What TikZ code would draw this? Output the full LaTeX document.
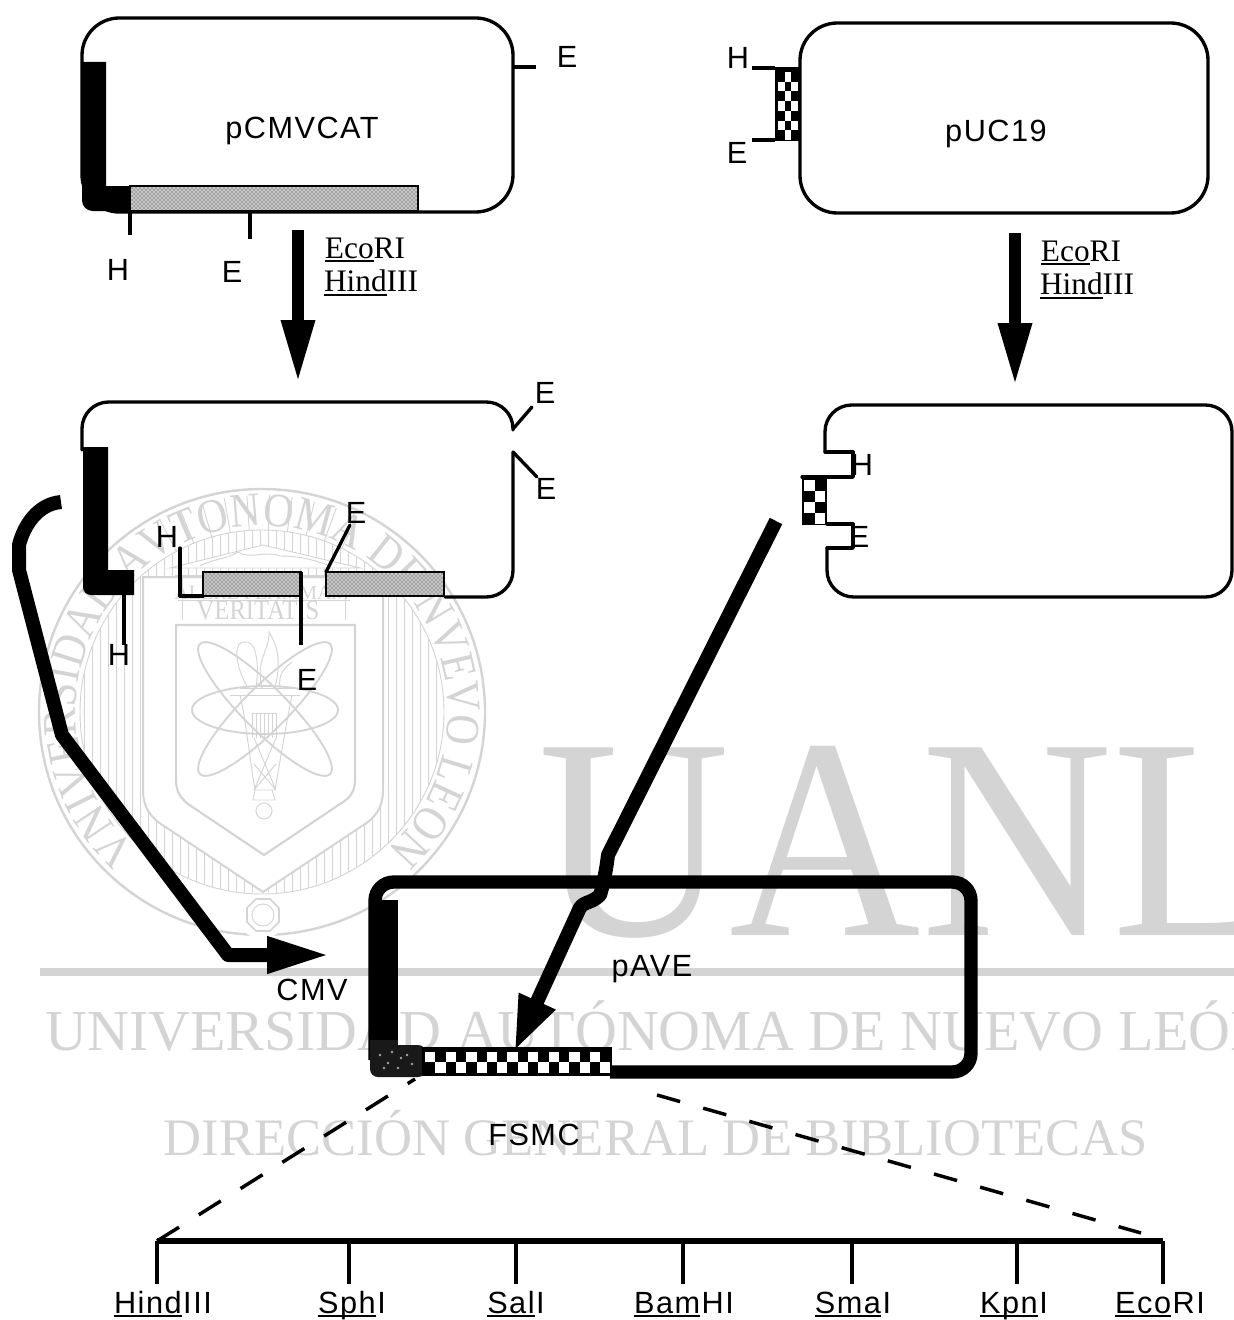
\documentclass[tikz,border=0pt]{standalone}
\usepackage{fontspec}
\usetikzlibrary{arrows.meta,patterns,decorations.text}
\setmainfont{Liberation Serif}
\newfontfamily\labfont[LetterSpace=5]{Liberation Sans}
\newfontfamily\crestfont[FakeStretch=0.88]{Liberation Serif}
\newfontfamily\bigfont[FakeStretch=0.925]{Liberation Serif}
\colorlet{wm}{black!17}
\newcommand{\ulab}[1]{\setbox0\hbox{#1}\rlap{\vrule width\wd0 height -1.6pt depth 2.9pt}#1}
\tikzset{
  x=0.75pt,y=-0.75pt,
  thinline/.style={line width=2.5pt,line cap=round,line join=round},
  tickline/.style={line width=2.3pt},
  lab/.style={inner sep=0pt,font=\labfont\fontsize{23}{25}\selectfont},
  sitelab/.style={inner sep=0pt,anchor=base,font=\labfont\fontsize{23}{25}\selectfont},
  enz/.style={inner sep=0pt,font=\fontsize{23.5}{25}\selectfont},
  bigarrow/.style={line width=9.5pt,-{Triangle[length=48pt,width=23pt]}},
  stipple/.style={draw=black,line width=2.2pt,fill=black!22,postaction={pattern=crosshatch dots,pattern color=black!80}},
  wmtext/.style={inner sep=0pt,text=wm},
  wmline/.style={draw=wm,line width=1pt},
  wmfine/.style={draw=wm,line width=.7pt},
  dashl/.style={line width=2.6pt,dash pattern=on 19.5pt off 17.5pt},
  dashr/.style={line width=2.6pt,dash pattern=on 18pt off 18pt},
}
\begin{document}
\begin{tikzpicture}
\useasboundingbox (0,0) rectangle (1234,1320);
\begin{scope}
\clip (0,0) rectangle (1234,1320);
% ---------- watermark ----------
\node[wmtext,anchor=base west] (wmU) at (538,935) {\bigfont\fontsize{215}{215}\selectfont UANL};
\fill[wm] (40,968) rectangle (1234,976);
\node[wmtext,anchor=base west] (wmA) at (45,1050) {\fontsize{43.5}{46}\selectfont UNIVERSIDAD AUTÓNOMA DE NUEVO LEÓN};
\node[wmtext,anchor=base] (wmB) at (656,1155) {\fontsize{39.5}{42}\selectfont DIRECCIÓN GENERAL DE BIBLIOTECAS};
% crest
\coordinate (cc) at (262,712);
\draw[wmline,line width=1.8pt] (cc) circle[radius=223];
\begin{scope}
\clip (cc) circle[radius=182];
\foreach \xx in {84,92,...,444} {\draw[wmfine] (\xx,525) -- (\xx,900);}
\end{scope}
\begin{scope}[shift={(cc)}]
\foreach \aa in {-118,-112,...,-62} {\draw[wmfine] (\aa:182) -- (\aa:217);}
\fill[white] (0,203) circle[radius=24];
\end{scope}
\draw[wmfine] (cc) circle[radius=182];
\draw[wmline,line width=1.5pt,fill=white] (143,577) -- (383,577) -- (383,790) .. controls (383,808) and (375,818) .. (362,826) -- (263,892) -- (164,826) .. controls (151,818) and (143,808) .. (143,790) -- cycle;
\draw[wmfine,fill=white] (263,545) -- (360,568) -- (170,568) -- cycle;
\draw[wmfine] (200,566) .. controls (215,558) and (225,560) .. (238,552) .. controls (250,560) and (265,550) .. (280,556) .. controls (300,556) and (315,560) .. (330,566);
\draw[wmfine] (175,575) -- (350,575) (178,600) -- (350,600);
\draw[wmfine] (182,578) -- (182,620) (345,578) -- (345,620);
\node[wmtext,anchor=base] (wmMotto) at (262,599) {\fontsize{15}{16}\selectfont ALERE FLAMMAM};
\node[wmtext,anchor=base] (wmVer) at (258,619) {\crestfont\fontsize{21}{22}\selectfont VERITATIS};
\draw[wmline,line width=1.6pt] (176,625) -- (355,625) -- (355,780) .. controls (355,792) and (350,798) .. (340,804) -- (264,855) -- (188,804) .. controls (181,798) and (176,792) .. (176,780) -- cycle;
\draw[wmline,line width=1.4pt] (265,710) ellipse[x radius=73,y radius=24];
\draw[wmline,line width=1.4pt,rotate around={45:(265,709)}] (265,709) ellipse[x radius=92,y radius=22];
\draw[wmline,line width=1.4pt,rotate around={-45:(265,709)}] (265,709) ellipse[x radius=92,y radius=22];
% torch
\draw[wmfine] (230,695) -- (300,695) (240,688) -- (295,688);
\draw[wmfine] (240,695) .. controls (245,715) and (250,760) .. (255,790) -- (275,790) .. controls (280,760) and (288,715) .. (292,695);
\foreach \xx in {252,256,...,278} {\draw[wmfine] (\xx,713) -- (\xx,738);}
\draw[wmfine] (254,738) -- (276,790) (276,738) -- (254,790) (254,764) -- (276,790) (276,764) -- (254,790);
\draw[wmfine] (253,713) -- (277,713);
\draw[wmfine] (255,790) -- (253,800) -- (275,800) -- (272,790);
\draw[wmfine] (264,811) circle[radius=8];
\draw[wmfine] (248,688) .. controls (232,660) and (235,640) .. (245,642) .. controls (255,640) and (260,660) .. (256,688);
\draw[wmfine] (262,688) .. controls (255,660) and (270,650) .. (269,632) .. controls (280,650) and (280,665) .. (275,688);
\draw[wmfine] (280,688) .. controls (278,675) and (284,668) .. (292,662);
% octagon
\draw[wmline,line width=1.3pt] (279,908) -- (279,922) -- (270,931) -- (256,931) -- (247,922) -- (247,908) -- (256,899) -- (270,899) -- cycle;
\draw[wmfine] (263,915) circle[radius=11];
\begin{scope}[shift={(cc)},x=0.75pt,y=0.75pt]
\path[decorate,decoration={text along path,text align={center},
  text={|\crestfont\fontsize{36}{38}\selectfont\color{wm}|VNIVERSIDAD AVTONOMA DE NVEVO LEON}}]
  (229:186) arc[start angle=229,end angle=-49,radius=186];
\end{scope}
\end{scope}
% ---------- pCMVCAT ----------
\draw[thinline,rounded corners=28pt] (82,18) rectangle (513,212);
\fill (82,62) -- (106,62) -- (106,186) -- (130,186) -- (130,211) [rounded corners=8pt] -- (82,211) -- (82,186) [sharp corners] -- cycle;
\path[stipple] (130,186) rectangle (418,211);
\coordinate (t1a) at (513,67); \coordinate (t1b) at (536,67);
\draw[tickline] (t1a) -- (t1b);
\coordinate (t1c) at (130,211); \coordinate (t1d) at (130,235);
\draw[tickline] (t1c) -- (t1d);
\coordinate (t1e) at (250,211); \coordinate (t1f) at (250,239);
\draw[tickline] (t1e) -- (t1f);
\node[lab] (pcmv) at (302,131) {pCMVCAT};
\node[lab] (e1) at (567,57) {E};
\node[lab] (h1) at (118,270) {H};
\node[lab] (e2) at (232,272) {E};
% ---------- pUC19 ----------
\draw[thinline,rounded corners=28pt] (800,23) rectangle (1208,213);
\fill (775,67) rectangle (800,141);
\foreach \rr/\cc in {0/1,1/0,1/2,2/1,3/0,3/2,4/1,5/0,5/2,6/1} {
  \pgfmathsetmacro{\xa}{778+6.5*\cc}\pgfmathsetmacro{\ya}{72+9.7*\rr}
  \fill[white] (\xa,\ya) rectangle (\xa+6.5,\ya+9.7);}
\coordinate (t2a) at (752,68); \coordinate (t2b) at (775,68);
\draw[tickline] (t2a) -- (t2b);
\coordinate (t2c) at (752,140); \coordinate (t2d) at (775,140);
\draw[tickline] (t2c) -- (t2d);
\node[lab] (puc) at (996,134) {pUC19};
\node[lab] (h2) at (738,58) {H};
\node[lab] (e3) at (737,153) {E};
% ---------- digest arrows ----------
\coordinate (a1s) at (298,230); \coordinate (a1e) at (298,384);
\draw[bigarrow] (a1s) -- (a1e);
\coordinate (a2s) at (1015,233); \coordinate (a2e) at (1015,387);
\draw[bigarrow] (a2s) -- (a2e);
\node[enz] (ec1) at (365,250) {\ulab{Eco}RI};
\node[enz] (hi1) at (371,283) {\ulab{Hind}III};
\node[enz] (ec2) at (1081,253) {\ulab{Eco}RI};
\node[enz] (hi2) at (1087,286) {\ulab{Hind}III};
% ---------- cut pCMVCAT ----------
\draw[thinline,rounded corners=20pt] (82,450) -- (82,402) -- (513,402) -- (513,430);
\draw[thinline] (513,429) -- (532,407);
\draw[thinline] (513,452) -- (537,477);
\draw[thinline] (513,452) [rounded corners=20pt] -- (513,597) -- (445,597);
\fill (83,447) -- (108,447) -- (108,570) -- (134,570) -- (134,595) [rounded corners=6pt] -- (83,595) -- (83,570) [sharp corners] -- cycle;
\coordinate (t3a) at (124,595); \coordinate (t3b) at (124,645);
\draw[tickline] (t3a) -- (t3b);
\path[stipple] (203,572) rectangle (301,596);
\draw[thinline] (180,548) -- (180,596) -- (203,596);
\coordinate (t3c) at (301,572); \coordinate (t3d) at (301,645);
\draw[tickline,line width=2.7pt] (t3c) -- (t3d);
\path[stipple] (326,572) rectangle (444,596);
\draw[thinline] (326,572) -- (350,525);
\node[lab] (e4) at (545,393) {E};
\node[lab] (e5) at (546,489) {E};
\node[lab] (h3) at (119,655) {H};
\node[lab] (h4) at (167,537) {H};
\node[lab] (e6) at (356,513) {E};
\node[lab] (e7) at (307,680) {E};
% ---------- cut pUC19 ----------
\draw[thinline,rounded corners=20pt] (825,452) -- (825,405) -- (1232,405) -- (1232,597) -- (827,597) -- (827,548);
\draw[thinline] (827,548) -- (853,548) -- (853,524) -- (827,524);
\draw[thinline] (825,452) -- (853,452) -- (853,477) -- (802,477);
\fill (802,477) rectangle (827,525);
\foreach \rr/\cc in {0/0,1/1,2/0,3/1} {
  \pgfmathsetmacro{\xa}{804+10.5*\cc}\pgfmathsetmacro{\ya}{480+11*\rr}
  \fill[white] (\xa,\ya) rectangle (\xa+10.5,\ya+11);}
\node[lab] (h5) at (862,465) {H};
\node[lab] (e8) at (859,537) {E};
% ---------- pAVE ----------
\draw[line width=10pt,rounded corners=14pt] (375,1060) -- (375,882) -- (971,882) -- (971,1072) -- (610,1072);
\fill (369,900) rectangle (398,1060);
\fill[black!90,rounded corners=6pt] (370,1045) -- (426,1045) -- (426,1077) -- (370,1077) -- cycle;
\fill[black!90] (370,1040) rectangle (398,1060);
\foreach \sx/\sy in {380/1055,392/1052,401/1058,388/1063,398/1068,407/1055,384/1068,412/1064} {\fill[white!65!black] (\sx,\sy) circle[radius=1.4];}
\fill (422,1047) rectangle (612,1076);
\foreach \cc in {0,...,17} {
  \pgfmathsetmacro{\xa}{425+10.3*\cc}
  \pgfmathtruncatemacro{\pa}{mod(\cc,2)}
  \ifnum\pa=0
    \fill[white] (\xa,1052) rectangle (\xa+10.3,1062);
  \else
    \fill[white] (\xa,1062) rectangle (\xa+10.3,1073);
  \fi}
\node[lab] (pave) at (652,969) {pAVE};
\node[lab] (cmv) at (312,990) {CMV};
\node[lab] (fsmc) at (534,1135) {FSMC};
% ---------- transfer arrows ----------
\coordinate (c1) at (61,502); \coordinate (c2) at (19,545); \coordinate (c3) at (19,570);
\coordinate (c4) at (62,735); \coordinate (c5) at (228,955); \coordinate (c6) at (331,955);
\draw[line width=10.5pt,line join=round,-{Triangle[length=48pt,width=25pt]}] (c1) .. controls (38,504) and (24,525) .. (c2) -- (c3) -- (c4) -- (c5) -- (c6);
\coordinate (p1) at (776,521); \coordinate (p2) at (608,855); \coordinate (p3) at (600,895); \coordinate (p4) at (514,1052);
\draw[line width=10.5pt,line join=round,-{Triangle[length=42pt,width=27pt]}] (p1) -- (p2) .. controls (605,880) and (600,895) .. (p3) .. controls (590,905) and (582,900) .. (578,912) -- (p4);
% ---------- polylinker ----------
\coordinate (d1) at (415,1079); \coordinate (d2) at (657,1095); \coordinate (d3) at (1141,1233);
\coordinate (s0) at (157,1241); \coordinate (s6) at (1163,1241);
\draw[dashl] (s0) -- (d1);
\draw[dashr] (d2) -- (d3);
\draw[line width=3.8pt] (s0) -- (s6);
\foreach \nm/\xx/\lbx/\lbl in {a/157/163/\ulab{Hind}III, b/349/352/\ulab{Sph}I, c/516/516/\ulab{Sal}I, d/683/684/\ulab{Bam}HI, e/852/853/\ulab{Sma}I, f/1017/1014/\ulab{Kpn}I, g/1163/1160/\ulab{Eco}RI} {
  \coordinate (u\nm) at (\xx,1241); \coordinate (v\nm) at (\xx,1284);
  \draw[tickline] (u\nm) -- (v\nm);
  \node[sitelab] (site\nm) at (\lbx,1313) {\lbl};
}
\end{tikzpicture}
\end{document}
